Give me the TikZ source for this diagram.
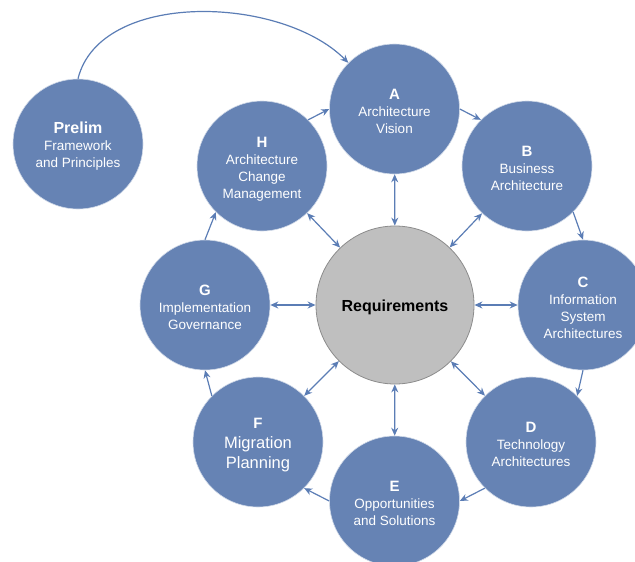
\documentclass[tikz,border=0pt]{standalone}
\usepackage{fontspec}
\setmainfont{Liberation Sans}
\usetikzlibrary{arrows.meta}
\definecolor{phasefill}{RGB}{102,131,180}
\definecolor{reqfill}{RGB}{191,191,191}
\definecolor{reqline}{RGB}{140,140,140}
\definecolor{conn}{RGB}{91,125,181}
\begin{document}
\begin{tikzpicture}[x=1pt,y=-1pt,
  phase/.style={circle, fill=phasefill, draw=white!70!phasefill, line width=0.6pt,
    minimum size=130pt, inner sep=0pt, text=white, align=center,
    font=\fontsize{13.5}{17}\selectfont},
  req/.style={circle, fill=reqfill, draw=reqline, line width=0.8pt,
    minimum size=158pt, inner sep=0pt, font=\fontsize{16}{19}\selectfont\bfseries,
    execute at begin node={\rule{0pt}{15.5pt}}},
  flow/.style={draw=conn, line width=1.2pt, -{Stealth[length=8pt,width=7pt]}},
  both/.style={draw=conn, line width=1.2pt, {Stealth[length=8pt,width=7pt]}-{Stealth[length=8pt,width=7pt]}}
]
\clip (0,0) rectangle (635,562);

\node[phase] (P) at (78,144) {\rule{0pt}{16pt}{\fontsize{16}{17}\selectfont\bfseries Prelim}\\Framework\\and Principles};
\node[phase] (A) at (394.5,109) {\rule{0pt}{16pt}{\fontsize{15}{17}\selectfont\bfseries A}\\Architecture\\Vision};
\node[phase] (B) at (527,166) {\rule{0pt}{16pt}{\fontsize{15}{17}\selectfont\bfseries B}\\Business\\Architecture};
\node[phase] (C) at (583,305) {\rule{0pt}{16pt}{\fontsize{15}{17}\selectfont\bfseries C}\\Information\\System\\Architectures};
\node[phase] (D) at (531,442) {\rule{0pt}{16pt}{\fontsize{15}{17}\selectfont\bfseries D}\\Technology\\Architectures};
\node[phase] (E) at (394.5,501) {\rule{0pt}{16pt}{\fontsize{15}{17}\selectfont\bfseries E}\\Opportunities\\and Solutions};
\node[phase, font=\fontsize{16.5}{20}\selectfont] (F) at (258,442) {\rule{0pt}{16pt}{\fontsize{15}{17}\selectfont\bfseries F}\\Migration\\Planning};
\node[phase] (G) at (205,305) {\rule{0pt}{16pt}{\fontsize{15}{17}\selectfont\bfseries G}\\Implementation\\Governance};
\node[phase] (H) at (262,166) {\rule{0pt}{16pt}{\fontsize{15}{17}\selectfont\bfseries H}\\Architecture\\Change\\Management};
\node[req] (R) at (395,305) {Requirements};

% Preliminary arc
\draw[flow] (P.90) .. controls (100,-10) and (281,-5) .. (A.135);

% cycle
\draw[flow] (H.45) -- (A.180);
\draw[flow] (A.0) -- (B.135);
\draw[flow] (B.-45) -- (C.90);
\draw[flow] (C.270) -- (D.45);
\draw[flow] (D.225) -- (E.0);
\draw[flow] (E.180) -- (F.-45);
\draw[flow] (F.135) -- (G.270);
\draw[flow] (G.90) -- (H.225);

% requirements links
\foreach \n in {A,B,C,D,E,F,G,H}
  \draw[both] (R) -- (\n);
\end{tikzpicture}
\end{document}
